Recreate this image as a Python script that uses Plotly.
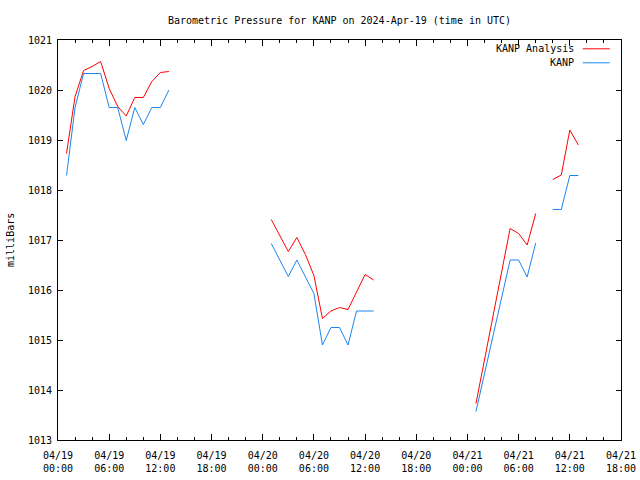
import datetime as dt
import plotly.graph_objects as go

# ---- data (hour offsets from 2024-04-19 00:00 UTC; None = gap) ----
hours = [1, 2, 3, 4, 5, 6, 7, 8, 9, 10, 11, 12, 13, 14,
         25, 26, 27, 28, 29, 30, 31, 32, 33, 34, 35, 36, 37, 38,
         49, 53, 54, 55, 56, 57,
         58, 59, 60, 61]
analysis = [1018.73, 1019.87, 1020.39, 1020.47, 1020.57, 1020.03, 1019.67, 1019.48, 1019.85, 1019.85, 1020.17, 1020.35, 1020.37, None,
            1017.41, 1017.09, 1016.77, 1017.05, 1016.71, 1016.29, 1015.43, 1015.58, 1015.65, 1015.61, 1015.97, 1016.31, 1016.20, None,
            1013.73, 1017.23, 1017.13, 1016.90, 1017.53, None,
            1018.21, 1018.30, 1019.20, 1018.90]
kanp = [1018.29, 1019.65, 1020.33, 1020.33, 1020.33, 1019.65, 1019.65, 1018.99, 1019.65, 1019.31, 1019.65, 1019.65, 1020.00, None,
        1016.93, 1016.60, 1016.27, 1016.60, 1016.27, 1015.93, 1014.90, 1015.25, 1015.25, 1014.90, 1015.58, 1015.58, 1015.58, None,
        1013.57, 1016.60, 1016.60, 1016.26, 1016.94, None,
        1017.61, 1017.61, 1018.29, 1018.29]
tick_hours = [0, 6, 12, 18, 24, 30, 36, 42, 48, 54, 60, 66]
y_ticks = [1013, 1014, 1015, 1016, 1017, 1018, 1019, 1020, 1021]

t0 = dt.datetime(2024, 4, 19, 0, 0)
times = [t0 + dt.timedelta(hours=h) for h in hours]
tick_vals = [t0 + dt.timedelta(hours=h) for h in tick_hours]
tick_text = [t.strftime("%m/%d<br>%H:%M") for t in tick_vals]

RED = "#ff0000"
BLUE = "#1a86f0"
FONT = "DejaVu Sans Mono"

fig = go.Figure()
fig.add_trace(go.Scatter(x=times, y=analysis, mode="lines", name="KANP Analysis",
                         line=dict(color=RED, width=1), connectgaps=False))
fig.add_trace(go.Scatter(x=times, y=kanp, mode="lines", name="KANP",
                         line=dict(color=BLUE, width=1), connectgaps=False))

axis_common = dict(showgrid=False, zeroline=False, showline=True, linecolor="black",
                   linewidth=1, ticks="inside", mirror="allticks", tickcolor="black",
                   automargin=False,
                   tickfont=dict(family=FONT, size=10, color="black"))

fig.update_xaxes(range=[tick_vals[0], tick_vals[-1]], tickmode="array",
                 tickvals=tick_vals, ticktext=tick_text, ticklen=6,
                 ticklabelstandoff=6,
                 minor=dict(ticks="inside", ticklen=3, dtick=2 * 3600 * 1000,
                            tickcolor="black", showgrid=False),
                 **axis_common)
fig.update_yaxes(range=[1013, 1021], tickmode="array", tickvals=y_ticks,
                 ticklen=5, ticklabelstandoff=3,
                 **axis_common)

# y-axis label
fig.add_annotation(x=-0.0853, y=0.5, xref="paper", yref="paper", text="milliBars",
                   textangle=-90, showarrow=False, xanchor="center", yanchor="middle",
                   font=dict(family=FONT, size=10, color="black"))

# legend drawn gnuplot-style: text right-aligned with line sample at right
legend_rows = [("KANP Analysis", RED, 0.978), ("KANP", BLUE, 0.943)]
for label, color, yy in legend_rows:
    fig.add_annotation(x=0.92, y=yy, xref="paper", yref="paper", text=label,
                       showarrow=False, xanchor="right", yanchor="middle",
                       font=dict(family=FONT, size=10, color="black"))
    fig.add_shape(type="line", xref="paper", yref="paper", x0=0.932, x1=0.98,
                  y0=yy, y1=yy, line=dict(color=color, width=1))

fig.update_layout(
    width=640, height=480,
    margin=dict(l=58, r=19, t=40, b=40, autoexpand=False),
    paper_bgcolor="white", plot_bgcolor="white",
    showlegend=False,
    title=dict(text="Barometric Pressure for KANP on 2024-Apr-19 (time in UTC)",
               x=0.5, xref="paper", y=1 - 20 / 480, yref="container",
               xanchor="center", yanchor="middle", automargin=False,
               font=dict(family=FONT, size=10, color="black")),
)

fig.write_html("out.html", config={"displayModeBar": False},
               post_script="document.body.style.margin='0px';document.body.style.overflow='hidden';")
